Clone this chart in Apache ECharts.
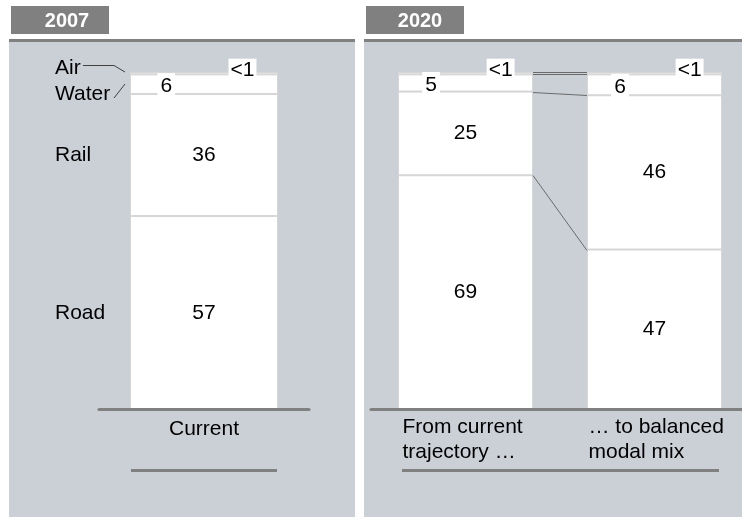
<!DOCTYPE html>
<html><head><meta charset="utf-8">
<script src="https://cdn.jsdelivr.net/npm/echarts@6/dist/echarts.min.js"></script>
<style>html,body{margin:0;padding:0;background:#fff}#c{width:742px;height:517px}</style>
</head><body><div id="c"></div>
<script>
// ---- data ----
const modes = ['Road', 'Rail', 'Water', 'Air'];
const panelTitles = ['2007', '2020'];
const cats2007 = ['Current'];
const cats2020 = ['From current\ntrajectory …', '… to balanced\nmodal mix'];
const road2007 = [57.3];
const rail2007 = [36.2];
const water2007 = [5.8];
const air2007 = [0.7];
const road2020 = [69.4, 47.4];
const rail2020 = [24.8, 45.7];
const water2020 = [5.1, 6.2];
const air2020 = [0.7, 0.7];

// ---- style ----
const FONT = "'Liberation Sans', Arial, sans-serif";
const PANEL = '#cbd0d7';
const DARK = '#808080';
const BW0 = 148, BW1 = 135;

const chart = echarts.init(document.getElementById('c'), null, {renderer: 'canvas'});

const fmt = p => (p.value < 1 ? '<1' : String(Math.round(p.value)));
function labelFor(mode) {
  const base = {show: true, formatter: fmt, fontSize: 21, fontFamily: FONT, color: '#000'};
  if (mode === 'Water') return Object.assign(base, {position: ['24.5%', '50%'], align: 'center', verticalAlign: 'middle', offset: [0, 2], backgroundColor: '#fff', padding: [4, 3, 1, 3]});
  if (mode === 'Air') return Object.assign(base, {position: ['76%', '50%'], align: 'center', verticalAlign: 'middle', offset: [0, -3], backgroundColor: '#fff', padding: [1, 2]});
  return Object.assign(base, {position: 'inside'});
}
const itemStyle = {color: '#fff', borderColor: '#d6d6d6', borderWidth: 1};
const d2007 = {Road: road2007, Rail: rail2007, Water: water2007, Air: air2007};
const d2020 = {Road: road2020, Rail: rail2020, Water: water2020, Air: air2020};
const series = [];
modes.forEach(m => series.push({name: m, type: 'bar', stack: 's2007', xAxisIndex: 0, yAxisIndex: 0, barWidth: BW0, data: d2007[m], itemStyle, label: labelFor(m)}));
modes.forEach(m => series.push({name: m + '2020', type: 'bar', stack: 's2020', xAxisIndex: 1, yAxisIndex: 1, barWidth: BW1, data: d2020[m], itemStyle, label: labelFor(m)}));

const axisCommon = {
  type: 'category', z: 10,
  axisLine: {show: true, lineStyle: {color: DARK, width: 3}},
  axisTick: {show: false},
  splitLine: {show: false}
};

chart.setOption({
  animation: false,
  grid: [
    {left: 99, top: 72, width: 210, height: 337.5, outerBoundsMode: 'none', containLabel: false},
    {left: 371, top: 72, width: 378, height: 337.5, outerBoundsMode: 'none', containLabel: false}
  ],
  xAxis: [
    Object.assign({}, axisCommon, {gridIndex: 0, data: cats2007,
      axisLabel: {interval: 0, hideOverlap: false, color: '#000', fontSize: 21, fontFamily: FONT, margin: 7, lineHeight: 25}}),
    Object.assign({}, axisCommon, {gridIndex: 1, data: cats2020,
      axisLabel: {interval: 0, hideOverlap: false, color: '#000', fontSize: 21, fontFamily: FONT, margin: 5, lineHeight: 25, align: 'center',
        formatter: (v, i) => v.split('\n').map(s => '{s' + i + '|' + s + '}').join('\n'),
        rich: {s0: {width: 126, align: 'left', fontSize: 21, fontFamily: FONT, lineHeight: 25, color: '#000'},
               s1: {width: 132, align: 'left', fontSize: 21, fontFamily: FONT, lineHeight: 25, color: '#000'}}}})
  ],
  yAxis: [
    {type: 'value', gridIndex: 0, min: 0, max: 100, show: false, splitLine: {show: false}},
    {type: 'value', gridIndex: 1, min: 0, max: 100, show: false, splitLine: {show: false}}
  ],
  series
});

// ---- decorations & labels positioned through the axes ----
const g = [];
g.push({type: 'rect', z: -10, shape: {x: 9, y: 39, width: 346, height: 478}, style: {fill: PANEL}});
g.push({type: 'rect', z: -10, shape: {x: 364, y: 39, width: 378, height: 478}, style: {fill: PANEL}});
g.push({type: 'rect', z: -9, shape: {x: 9, y: 39, width: 346, height: 3}, style: {fill: DARK}});
g.push({type: 'rect', z: -9, shape: {x: 364, y: 39, width: 378, height: 3}, style: {fill: DARK}});
g.push({type: 'rect', z: -9, shape: {x: 11, y: 6, width: 98, height: 28}, style: {fill: DARK}});
g.push({type: 'rect', z: -9, shape: {x: 366, y: 6, width: 98, height: 28}, style: {fill: DARK}});
g.push({type: 'text', z: 5, style: {text: panelTitles[0], x: 67, y: 21, align: 'center', verticalAlign: 'middle', fill: '#fff', font: 'bold 20px ' + FONT}});
g.push({type: 'text', z: 5, style: {text: panelTitles[1], x: 420, y: 21, align: 'center', verticalAlign: 'middle', fill: '#fff', font: 'bold 20px ' + FONT}});
g.push({type: 'line', z: 5, shape: {x1: 131, y1: 470.5, x2: 277, y2: 470.5}, style: {stroke: DARK, lineWidth: 3}});
g.push({type: 'line', z: 5, shape: {x1: 402, y1: 470.5, x2: 719, y2: 470.5}, style: {stroke: DARK, lineWidth: 3}});

const px0 = v => chart.convertToPixel({gridIndex: 0}, [0, v]);
const L = px0(0)[0] - BW0 / 2;
const T = px0(road2007[0] + rail2007[0] + water2007[0] + air2007[0])[1];
const nameY = {
  Road: px0(road2007[0] / 2)[1],
  Rail: px0(road2007[0] + rail2007[0] / 2)[1],
  Water: T + 22,
  Air: T - 4
};
modes.forEach(m => g.push({type: 'text', z: 5, style: {text: m, x: 55, y: nameY[m], align: 'left', verticalAlign: 'middle', fill: '#000', font: '21px ' + FONT}}));
g.push({type: 'polyline', z: 5, shape: {points: [[L - 47, T - 6.5], [L - 16, T - 6.5], [L - 5, T]]}, style: {stroke: '#404040', lineWidth: 1, fill: null}});
g.push({type: 'polyline', z: 5, shape: {points: [[L - 16, T + 26], [L - 5, T + 12]]}, style: {stroke: '#404040', lineWidth: 1, fill: null}});

const px1 = (c, v) => chart.convertToPixel({gridIndex: 1}, [c, v]);
const levels = c => {
  const a = road2020[c], b = a + rail2020[c], w = b + water2020[c], t = w + air2020[c];
  return [a, b, w, t];
};
const lv0 = levels(0), lv1 = levels(1);
for (let k = 0; k < 4; k++) {
  const p0 = px1(0, lv0[k]), p1 = px1(1, lv1[k]);
  g.push({type: 'line', z: 5, shape: {x1: p0[0] + BW1 / 2, y1: Math.round(p0[1]) + 0.5, x2: p1[0] - BW1 / 2, y2: Math.round(p1[1]) + 0.5}, style: {stroke: '#6a6a6a', lineWidth: 1}});
}
chart.setOption({graphic: g});
</script>
</body></html>
